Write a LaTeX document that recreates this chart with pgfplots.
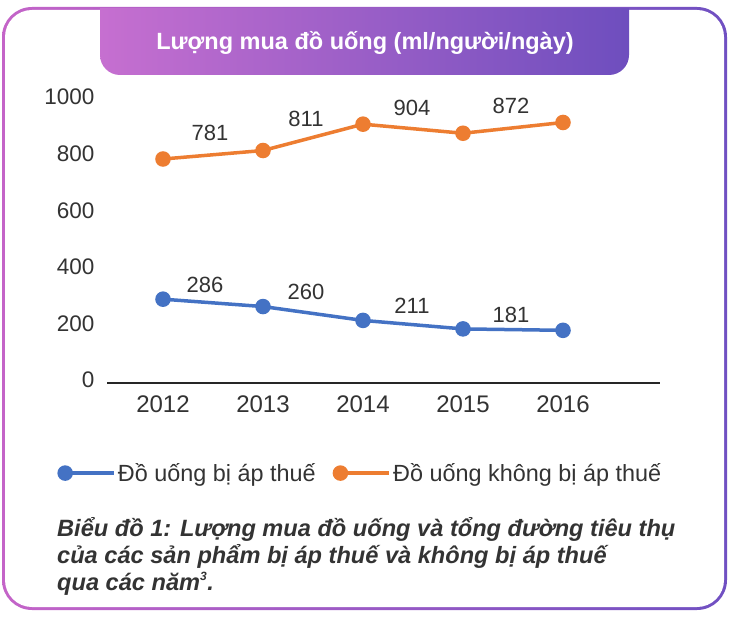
\documentclass[border=0pt]{standalone}
\usepackage{fontspec}
\setmainfont{Liberation Sans}
\usepackage{pgfplots}
\pgfplotsset{compat=1.18}
\usepackage{pgfplotstable}
\definecolor{txt}{HTML}{333333}
\definecolor{sblue}{HTML}{4472C4}
\definecolor{sorange}{HTML}{ED7D31}
\definecolor{pinkL}{HTML}{C66FD0}
\definecolor{purR}{HTML}{6E4EBE}
\definecolor{frameL}{HTML}{C464C8}
\definecolor{frameR}{HTML}{7050C2}

\pgfplotstableread{
x y dx dy lab
0 286 42 14 286
1 260 43 15 260
2 211 49 15 211
3 181 48 14 181
4 176 0 0 {}
}\taxed
\pgfplotstableread{
x y dx dy lab
0 781 47 26 781
1 811 43 32 811
2 904 49 16 904
3 872 48 27 872
4 910 0 0 {}
}\untaxed

\begin{document}
\begin{tikzpicture}
\path (0pt,0pt) rectangle (730pt,616pt);
\shade[left color=frameL, right color=frameR, rounded corners=30pt] (2pt,6pt) rectangle (727pt,609pt);
\fill[white, rounded corners=27pt] (5pt,9pt) rectangle (724pt,606pt);
\begin{scope}
\clip (100pt,541pt) rectangle (629pt,607pt);
\shade[left color=pinkL, right color=purR, rounded corners=20pt] (100pt,541pt) rectangle (629pt,640pt);
\end{scope}
\node[text=white, anchor=base, inner sep=0pt, font=\fontsize{23.5}{28}\selectfont\bfseries] at (365pt,566pt) {Lượng mua đồ uống (ml/người/ngày)};

\begin{axis}[
 at={(107pt,233pt)}, anchor=south west, scale only axis, width=553pt, height=286pt,
 xmin=-0.56, xmax=4.97, ymin=-10, ymax=1000,
 axis x line*=bottom, axis y line*=left,
 y axis line style={draw=none},
 x axis line style={line width=1.8pt, color=black!85},
 major tick length=0pt,
 xtick={0,...,4}, xticklabels={2012,2013,2014,2015,2016},
 ytick={0,200,...,1000},
 tick label style={color=txt},
 xticklabel style={font=\fontsize{24}{28}\selectfont, yshift=-9pt},
 yticklabel style={font=\fontsize{22.5}{27}\selectfont, xshift=-9pt},
 /pgf/number format/assume math mode=true,
 /pgf/number format/1000 sep={},
 clip=false,
 legend image code/.code={\draw[#1, mark=none] (0pt,0pt) -- (49pt,0pt); \fill[#1] (0pt,0pt) circle (6pt);},
 legend style={at={(-0.09,-0.315)}, anchor=west, draw=none, fill=none, inner sep=0pt, font=\fontsize{23.4}{28}\selectfont, text=txt, legend columns=2, /tikz/every even column/.append style={column sep=15pt}},
 legend cell align=left,
]
\addplot[sblue, line width=3.5pt, mark=*, mark size=6pt,
  point meta=explicit symbolic,
  nodes near coords,
  visualization depends on={\thisrow{dx}\as\dx},
  visualization depends on={\thisrow{dy}\as\dy},
  every node near coord/.append style={anchor=center, font=\fontsize{22}{26}\selectfont, color=txt, xshift=\dx pt, yshift=\dy pt}]
  table[x=x,y=y,meta=lab] {\taxed};
\addlegendentry{Đồ uống bị áp thuế}
\addplot[sorange, line width=3.5pt, mark=*, mark size=6pt,
  point meta=explicit symbolic,
  nodes near coords,
  visualization depends on={\thisrow{dx}\as\dx},
  visualization depends on={\thisrow{dy}\as\dy},
  every node near coord/.append style={anchor=center, font=\fontsize{22}{26}\selectfont, color=txt, xshift=\dx pt, yshift=\dy pt}]
  table[x=x,y=y,meta=lab] {\untaxed};
\addlegendentry{Đồ uống không bị áp thuế}
\end{axis}

\begin{scope}[every node/.style={anchor=base west, inner sep=0pt, text=txt, font=\fontsize{23.6}{27}\selectfont\bfseries\itshape}]
\node at (57pt,80pt) {Biểu đồ 1: Lượng mua đồ uống và tổng đường tiêu thụ};
\node at (57pt,53pt) {của các sản phẩm bị áp thuế và không bị áp thuế};
\node at (57pt,26pt) {qua các năm\textsuperscript{\fontsize{12}{12}\selectfont 3}.};
\end{scope}
\end{tikzpicture}
\end{document}
